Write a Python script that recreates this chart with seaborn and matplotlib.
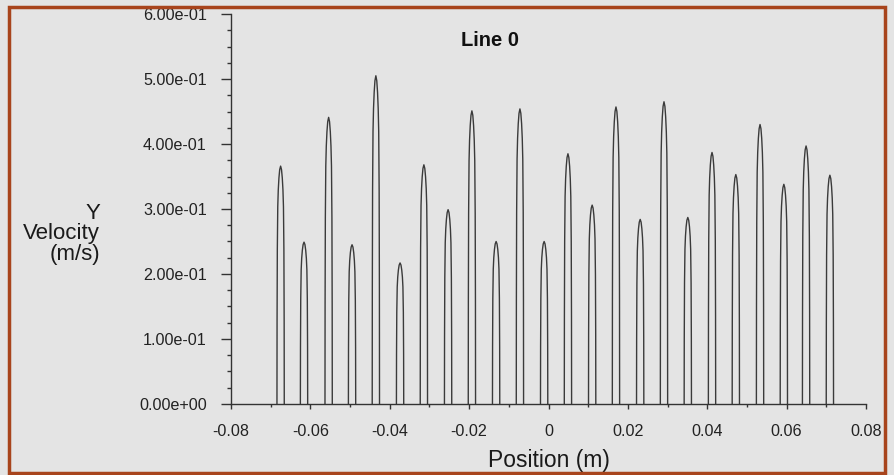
import numpy as np
import pandas as pd
import matplotlib
matplotlib.use("Agg")
import matplotlib.pyplot as plt
import matplotlib.ticker as mticker
from matplotlib.patches import Rectangle
import seaborn as sns

# peak centres (m) and peak Y velocity (m/s)
peak_pos = [-0.0675, -0.0616, -0.0554, -0.0495, -0.0435, -0.0374, -0.0314, -0.0253,
            -0.0193, -0.0132, -0.0072, -0.0011, 0.0049, 0.0110, 0.0170, 0.0231,
            0.0291, 0.0351, 0.0412, 0.0472, 0.0533, 0.0593, 0.0649, 0.0709]
peak_vel = [0.366, 0.249, 0.441, 0.245, 0.505, 0.217, 0.368, 0.299,
            0.451, 0.250, 0.454, 0.250, 0.385, 0.306, 0.457, 0.284,
            0.465, 0.287, 0.387, 0.353, 0.430, 0.338, 0.397, 0.352]

# outline of one jet: (offset in half widths, fraction of peak height)
half_width = 0.00092
shape_dx = [-1.0, -0.97, -0.9, -0.78, -0.64, -0.46, -0.25, 0.0,
            0.25, 0.46, 0.64, 0.78, 0.9, 0.97, 1.0]
shape_fy = [0.0, 0.35, 0.65, 0.83, 0.9, 0.95, 0.985, 1.0,
            0.985, 0.95, 0.9, 0.83, 0.65, 0.35, 0.0]

rows = []
for i, (p, v) in enumerate(zip(peak_pos, peak_vel)):
    for dx, fy in zip(shape_dx, shape_fy):
        rows.append({"peak": i, "x": p + dx * half_width, "y": v * fy})
df = pd.DataFrame(rows)

bg = "#e4e4e4"
sns.set_style("ticks", {"axes.facecolor": bg, "figure.facecolor": bg})
plt.rcParams["font.family"] = ["Liberation Sans", "DejaVu Sans"]

fig = plt.figure(figsize=(8.95, 4.75), dpi=100)
ax = fig.add_axes([0.2581, 0.1495, 0.7095, 0.821])

sns.lineplot(data=df, x="x", y="y", units="peak", estimator=None,
             color="#3a3a3a", linewidth=1.0, ax=ax)

ax.set_xlim(-0.08, 0.08)
ax.set_ylim(0, 0.6)
ax.xaxis.set_major_locator(mticker.MultipleLocator(0.02))
ax.xaxis.set_minor_locator(mticker.MultipleLocator(0.01))
ax.yaxis.set_major_locator(mticker.MultipleLocator(0.1))
ax.yaxis.set_minor_locator(mticker.MultipleLocator(0.025))
ax.xaxis.set_major_formatter(mticker.FuncFormatter(
    lambda v, _: "0" if abs(v) < 1e-9 else f"{v:.2f}"))
ax.yaxis.set_major_formatter(mticker.FuncFormatter(lambda v, _: f"{v:.2e}"))

ax.tick_params(axis="y", which="major", length=7.5, width=1, pad=10,
               labelsize=11.6, color="#333333", labelcolor="#222222")
ax.tick_params(axis="y", which="minor", length=3, width=1, color="#333333")
ax.tick_params(axis="x", which="major", length=3.5, width=1, pad=11,
               labelsize=11.6, color="#333333", labelcolor="#222222")
ax.tick_params(axis="x", which="minor", length=2, width=1, color="#333333")

for s in ["top", "right"]:
    ax.spines[s].set_visible(False)
for s in ["left", "bottom"]:
    ax.spines[s].set_color("#333333")
    ax.spines[s].set_linewidth(1)

ax.set_xlabel("Position (m)", fontsize=16.5, color="#1a1a1a", va="center")
ax.xaxis.set_label_coords(0.5, -0.146)
ax.set_ylabel("Y\nVelocity\n(m/s)", fontsize=16, color="#1a1a1a", rotation=0,
              ha="right", va="center", multialignment="right", linespacing=0.95)
ax.yaxis.set_label_coords(-0.206, 0.436)

ax.text(0.408, 0.933, "Line 0", transform=ax.transAxes, fontsize=14.5,
        fontweight="bold", ha="center", va="center", color="#111111")

fig.patches.append(Rectangle((0.0106, 0.005), 0.978, 0.98, transform=fig.transFigure,
                             fill=False, edgecolor="#a8441c", linewidth=2.5))

fig.savefig("out.png", dpi=100, facecolor=bg)
